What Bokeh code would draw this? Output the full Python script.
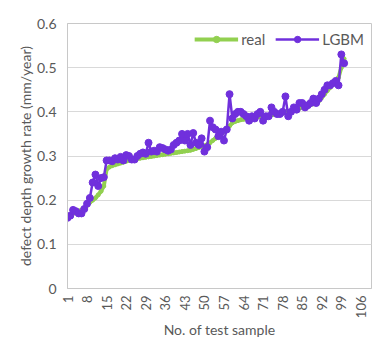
import math
from bokeh.plotting import figure
from bokeh.models import FixedTicker, Range1d, Legend, LegendItem
from bokeh.embed import file_html
from bokeh.resources import INLINE

# ---- data ----
sample_no = list(range(1, 101))
real = [0.160, 0.165, 0.170, 0.172, 0.175, 0.178, 0.182, 0.188, 0.195, 0.200,
        0.205, 0.212, 0.220, 0.232, 0.270, 0.275, 0.278, 0.280, 0.282, 0.284,
        0.286, 0.288, 0.290, 0.292, 0.293, 0.294, 0.295, 0.296, 0.297, 0.298,
        0.299, 0.300, 0.301, 0.302, 0.303, 0.304, 0.305, 0.306, 0.307, 0.308,
        0.309, 0.310, 0.311, 0.312, 0.313, 0.315, 0.317, 0.319, 0.321, 0.323,
        0.326, 0.330, 0.335, 0.340, 0.345, 0.350, 0.355, 0.360, 0.368, 0.375,
        0.378, 0.380, 0.382, 0.383, 0.384, 0.385, 0.386, 0.387, 0.388, 0.389,
        0.390, 0.391, 0.392, 0.393, 0.394, 0.395, 0.396, 0.397, 0.398, 0.400,
        0.402, 0.404, 0.406, 0.408, 0.410, 0.412, 0.414, 0.416, 0.418, 0.420,
        0.425, 0.432, 0.440, 0.448, 0.455, 0.462, 0.470, 0.478, 0.500, 0.520]
lgbm = [0.160, 0.165, 0.178, 0.175, 0.170, 0.170, 0.180, 0.192, 0.205, 0.240,
        0.258, 0.232, 0.250, 0.252, 0.290, 0.290, 0.288, 0.295, 0.292, 0.298,
        0.290, 0.302, 0.300, 0.292, 0.292, 0.300, 0.305, 0.308, 0.305, 0.330,
        0.310, 0.312, 0.310, 0.320, 0.318, 0.315, 0.312, 0.315, 0.325, 0.330,
        0.335, 0.350, 0.335, 0.350, 0.325, 0.352, 0.330, 0.325, 0.340, 0.310,
        0.320, 0.380, 0.365, 0.360, 0.345, 0.355, 0.335, 0.360, 0.440, 0.385,
        0.395, 0.400, 0.400, 0.395, 0.390, 0.380, 0.390, 0.385, 0.395, 0.400,
        0.380, 0.390, 0.390, 0.410, 0.400, 0.395, 0.395, 0.400, 0.435, 0.390,
        0.400, 0.410, 0.405, 0.420, 0.420, 0.410, 0.415, 0.420, 0.430, 0.420,
        0.430, 0.440, 0.450, 0.460, 0.460, 0.465, 0.470, 0.460, 0.530, 0.510]
x_ticks = [1, 8, 15, 22, 29, 36, 43, 50, 57, 64, 71, 78, 85, 92, 99, 106]
y_ticks = [0, 0.1, 0.2, 0.3, 0.4, 0.5, 0.6]

GREEN = "#92D050"
PURPLE = "#7030DC"
GRAY = "#595959"
FONT = "Lato"

p = figure(width=374, height=341, output_backend="svg", toolbar_location=None,
           x_range=Range1d(1, 109.8), y_range=Range1d(0, 0.6),
           min_border_left=67, min_border_right=3, min_border_top=23,
           min_border_bottom=53)

p.outline_line_color = "#C8C8C8"
p.xgrid.grid_line_color = None
p.ygrid.grid_line_color = "#D9D9D9"
p.ygrid.ticker = FixedTicker(ticks=y_ticks)

p.xaxis.ticker = FixedTicker(ticks=x_ticks)
p.yaxis.ticker = FixedTicker(ticks=y_ticks)
p.yaxis.major_label_overrides = {0: "0"}
p.xaxis.major_label_orientation = math.pi / 2

for ax in (p.xaxis, p.yaxis):
    ax.axis_line_color = "#C8C8C8"
    ax.major_tick_line_color = None
    ax.minor_tick_line_color = None
    ax.major_tick_out = 0
    ax.major_tick_in = 0
    ax.major_label_text_color = GRAY
    ax.major_label_text_font = FONT
    ax.axis_label_text_color = GRAY
    ax.axis_label_text_font = FONT
    ax.axis_label_text_font_style = "normal"
    ax.axis_label_text_font_size = "14px"

p.yaxis.major_label_text_font_size = "14px"
p.xaxis.major_label_text_font_size = "13px"
p.yaxis.major_label_standoff = 11
p.xaxis.major_label_standoff = 7
p.xaxis.axis_label = "No. of test sample"
p.yaxis.axis_label = "defect depth growth rate (mm/year)"
p.xaxis.axis_label_standoff = 0
p.yaxis.axis_label_standoff = 0

r1 = p.line(sample_no, real, line_color=GREEN, line_width=4)
r1m = p.scatter(sample_no, real, marker="circle", size=4, fill_color=GREEN, line_color=GREEN)
r2 = p.line(sample_no, lgbm, line_color=PURPLE, line_width=2.5)
r2m = p.scatter(sample_no, lgbm, marker="circle", size=7, fill_color=PURPLE, line_color=PURPLE)

legend = Legend(items=[LegendItem(label="real", renderers=[r1, r1m]),
                       LegendItem(label="LGBM", renderers=[r2, r2m])],
                orientation="horizontal", location="top_right",
                glyph_width=44, glyph_height=16, label_standoff=3, spacing=10,
                padding=0, margin=7, border_line_color=None,
                background_fill_alpha=0, label_text_font=FONT,
                label_text_font_size="15px", label_text_color=GRAY,
                label_height=16)
p.add_layout(legend, "center")

open("out.html", "w").write(file_html(p, INLINE))
